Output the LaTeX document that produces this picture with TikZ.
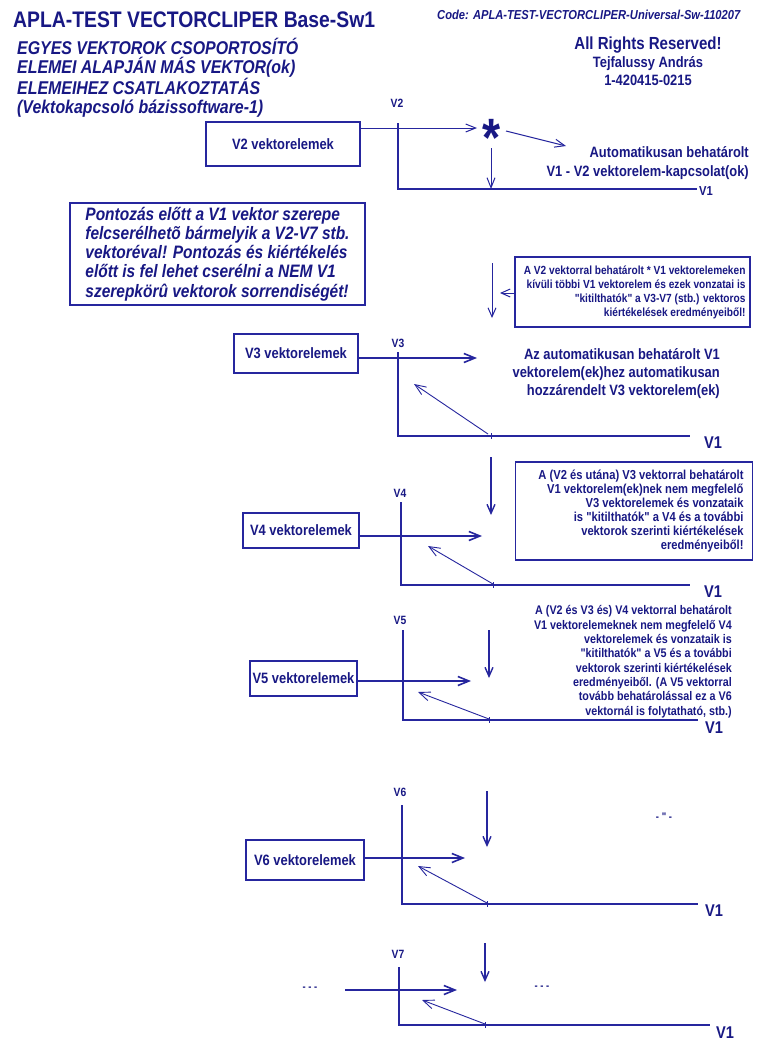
\documentclass[tikz,border=0pt]{standalone}
\usepackage{fontspec}
\setmainfont{Liberation Sans}[FakeStretch=0.86,Ligatures=TeXOff]
\usepackage{tikz}
\usetikzlibrary{arrows.meta,positioning}
\definecolor{inkblue}{RGB}{24,24,132}
\definecolor{lineblue}{RGB}{38,38,158}
\newcommand{\fsz}[2]{\fontsize{#1}{#2}\selectfont\bfseries}
\tikzset{
  plaintext/.style={text=inkblue,inner sep=0pt},
  elembox/.style={draw=lineblue,line width=1.4pt,text=inkblue,
    font=\fsz{15}{17},inner sep=0pt},
  notebox/.style={draw=lineblue,line width=2pt,text=inkblue,align=left,
    font=\fsz{18}{19.2}\itshape,inner sep=0pt},
  exclbox/.style={draw=lineblue,line width=1.8pt,text=inkblue,
    align=flush right,inner ysep=0pt},
  vname/.style={plaintext,font=\fsz{12}{14},anchor=base},
  vone/.style={plaintext,font=\fsz{17}{19},anchor=base},
  axisline/.style={draw=lineblue,line width=1.6pt},
  tickmark/.style={draw=lineblue,line width=0.8pt},
  flow/.style={-{Straight Barb[length=11pt,width=9pt]},line width=1.6pt,
    draw=lineblue},
  thinflow/.style={-{Straight Barb[length=10pt,width=8pt]},line width=1pt,
    draw=lineblue},
  dropflow/.style={-{Straight Barb[length=9pt,width=8pt]},line width=1.4pt,
    draw=lineblue},
  backflow/.style={-{Straight Barb[length=11pt,width=9pt]},line width=0.9pt,
    draw=lineblue}
}

\begin{document}
\begin{tikzpicture}[x=1pt,y=-1pt]
  \useasboundingbox[fill=white] (0,0) rectangle (760,1050);
  % header (multi-line nodes sit on the baseline of their last line)
  \node[plaintext,font=\fsz{22.5}{26},anchor=base west] (head) at (13,27)
    {APLA-TEST VECTORCLIPER Base-Sw1};
  \node[plaintext,font=\fsz{18.5}{18.8}\itshape,align=left,anchor=base west]
    (sub) at (17,113)
    {EGYES VEKTOROK CSOPORTOSÍTÓ\\ELEMEI ALAPJÁN MÁS VEKTOR(ok)\\
     ELEMEIHEZ CSATLAKOZTATÁS\\(Vektokapcsoló bázissoftware-1)};
  \node[plaintext,font=\fsz{13}{15}\itshape,anchor=base west] (code) at (437,19)
    {Code: APLA-TEST-VECTORCLIPER-Universal-Sw-110207};
  \node[plaintext,font=\fsz{17.5}{20},anchor=base] (rights) at (648,49)
    {All Rights Reserved!};
  \node[plaintext,font=\fsz{15}{18},align=center,anchor=base] (author)
    at (648,85) {Tejfalussy András\\1-420415-0215};

  % V2
  \node[elembox,minimum width=154pt,minimum height=44pt] (elem2) at (283,144)
    {V2 vektorelemek};
  \node[vname] (vlab2) at (397,107.5) {V2};
  \coordinate (top2) at (398,123);
  \coordinate (end2) at (697,189);
  \draw[axisline,line width=1.3pt] (top2) |- (end2);
  \node[vone,font=\fsz{13}{15}] (one2) at (706,195) {V1};
  \coordinate (hit2) at (477,128);
  \draw[thinflow] (elem2.east |- hit2) -- (hit2);
  \node[plaintext,font=\fsz{54}{54}] (star) at (492,138) {*};
  \coordinate (drop2) at (491,148);
  \coordinate (tick2) at (491,189);
  \draw[thinflow] (drop2) -- (tick2);
  \coordinate (from2) at (506,131);
  \coordinate (to2) at (566,146);
  \draw[thinflow] (from2) -- (to2);
  \node[plaintext,font=\fsz{15}{19},align=right,anchor=base east] (auto2)
    at (749,176) {Automatikusan behatárolt\\V1 - V2 vektorelem-kapcsolat(ok)};

  % swap note
  \node[notebox,minimum width=295pt,minimum height=102pt] (swap)
    at (217.5,254)
    {Pontozás előtt a V1 vektor szerepe\\felcserélhetõ bármelyik a V2-V7 stb.\\
     vektoréval! Pontozás és kiértékelés\\előtt is fel lehet cserélni a NEM V1\\
     szerepkörû vektorok sorrendiségét!};

  % exclusion after V2
  \node[exclbox,font=\fsz{11.8}{14},text width=226pt,inner xsep=4.5pt,
    minimum height=70pt] (excl2) at (632.5,292)
    {A V2 vektorral behatárolt * V1 vektorelemeken\\
     kívüli többi V1 vektorelem és ezek vonzatai is\\
     "kitilthatók" a V3-V7 (stb.) vektoros\\
     kiértékelések eredményeiből!};
  \coordinate (left2) at (500,293);
  \draw[dropflow,line width=1pt] (excl2.west |- left2) -- (left2);
  \coordinate (down2a) at (492,263);
  \coordinate (down2b) at (492,318);
  \draw[dropflow,line width=1pt] (down2a) -- (down2b);

  % V3
  \node[elembox,minimum width=124pt,minimum height=39pt] (elem3) at (296,353.5)
    {V3 vektorelemek};
  \node[vname] (vlab3) at (398,347) {V3};
  \coordinate (top3) at (398,352);
  \coordinate (end3) at (690,436);
  \draw[axisline] (top3) |- (end3);
  \node[vone] (one3) at (713,448) {V1};
  \coordinate (hit3) at (477,358);
  \draw[flow] (elem3.east |- hit3) -- (hit3);
  \coordinate (tick3) at (491,436);
  \coordinate (back3) at (414,384);
  \draw[tickmark] ([yshift=3pt]tick3) -- ([yshift=-3pt]tick3);
  \draw[backflow] ([xshift=-3pt,yshift=2pt]tick3) -- (back3);
  \node[plaintext,font=\fsz{15}{18},align=right,anchor=base east] (auto3)
    at (720,395) {Az automatikusan behatárolt V1\\
     vektorelem(ek)hez automatikusan\\hozzárendelt V3 vektorelem(ek)};

  % V4
  \coordinate (down3a) at (491,457);
  \coordinate (down3b) at (491,515);
  \draw[dropflow] (down3a) -- (down3b);
  \node[exclbox,font=\fsz{13}{14},text width=219pt,inner xsep=9pt,
    minimum height=98pt] (excl3) at (634,511)
    {A (V2 és utána) V3 vektorral behatárolt\\
     V1 vektorelem(ek)nek nem megfelelő\\
     V3 vektorelemek és vonzataik\\
     is "kitilthatók" a V4 és a további\\
     vektorok szerinti kiértékelések\\
     eredményeiből!};
  \node[elembox,minimum width=116pt,minimum height=35pt] (elem4) at (301,530.5)
    {V4 vektorelemek};
  \node[vname] (vlab4) at (400,497) {V4};
  \coordinate (top4) at (401,502);
  \coordinate (end4) at (690,585);
  \draw[axisline] (top4) |- (end4);
  \node[vone] (one4) at (713,597) {V1};
  \coordinate (hit4) at (482,536);
  \draw[flow] (elem4.east |- hit4) -- (hit4);
  \coordinate (tick4) at (493,585);
  \coordinate (back4) at (428,546);
  \draw[tickmark] ([yshift=3pt]tick4) -- ([yshift=-3pt]tick4);
  \draw[backflow] ([yshift=1pt]tick4) -- (back4);

  % V5
  \node[plaintext,font=\fsz{12.5}{14.3},align=right,anchor=base east] (note4)
    at (732,715) {A (V2 és V3 és) V4 vektorral behatárolt\\
     V1 vektorelemeknek nem megfelelő V4\\
     vektorelemek és vonzataik is\\
     "kitilthatók" a V5 és a további\\
     vektorok szerinti kiértékelések\\
     eredményeiből. (A V5 vektorral\\
     tovább behatárolással ez a V6\\
     vektornál is folytatható, stb.)};
  \coordinate (down4a) at (489,630);
  \coordinate (down4b) at (489,678);
  \draw[dropflow] (down4a) -- (down4b);
  \node[elembox,minimum width=107pt,minimum height=35pt] (elem5) at (303.5,678.5)
    {V5 vektorelemek};
  \node[vname] (vlab5) at (400,624) {V5};
  \coordinate (top5) at (403,630);
  \coordinate (end5) at (698,720);
  \draw[axisline] (top5) |- (end5);
  \node[vone] (one5) at (714,733) {V1};
  \coordinate (hit5) at (471,681);
  \draw[flow] (elem5.east |- hit5) -- (hit5);
  \coordinate (tick5) at (489,720);
  \coordinate (back5) at (418,692);
  \draw[tickmark] ([yshift=3pt]tick5) -- ([yshift=-3pt]tick5);
  \draw[backflow] ([yshift=1pt]tick5) -- (back5);

  % V6
  \coordinate (down5a) at (487,791);
  \coordinate (down5b) at (487,847);
  \draw[dropflow] (down5a) -- (down5b);
  \node[plaintext,font=\fsz{11}{13}] (ditto) at (664,817) {- " -};
  \node[elembox,minimum width=118pt,minimum height=40pt] (elem6) at (305,860)
    {V6 vektorelemek};
  \node[vname] (vlab6) at (400,796) {V6};
  \coordinate (top6) at (402,805);
  \coordinate (end6) at (698,904);
  \draw[axisline] (top6) |- (end6);
  \node[vone] (one6) at (714,916) {V1};
  \coordinate (hit6) at (465,858);
  \draw[flow] (elem6.east |- hit6) -- (hit6);
  \coordinate (tick6) at (487,904);
  \coordinate (back6) at (418,866);
  \draw[tickmark] ([yshift=3pt]tick6) -- ([yshift=-3pt]tick6);
  \draw[backflow] ([yshift=1pt]tick6) -- (back6);

  % V7
  \coordinate (down6a) at (485,943);
  \coordinate (down6b) at (485,982);
  \draw[dropflow] (down6a) -- (down6b);
  \node[vname] (vlab7) at (398,958) {V7};
  \coordinate (top7) at (399,967);
  \coordinate (end7) at (710,1025);
  \draw[axisline] (top7) |- (end7);
  \node[vone] (one7) at (725,1038) {V1};
  \node[plaintext,font=\fsz{11}{13}] (more7) at (310,989) {- - -};
  \node[plaintext,font=\fsz{11}{13}] (rest7) at (542,988) {- - -};
  \coordinate (start7) at (345,990);
  \coordinate (hit7) at (457,990);
  \draw[flow] (start7) -- (hit7);
  \coordinate (tick7) at (485,1025);
  \coordinate (back7) at (422,1000);
  \draw[tickmark] ([yshift=3pt]tick7) -- ([yshift=-3pt]tick7);
  \draw[backflow] ([yshift=1pt]tick7) -- (back7);
\end{tikzpicture}
\end{document}
